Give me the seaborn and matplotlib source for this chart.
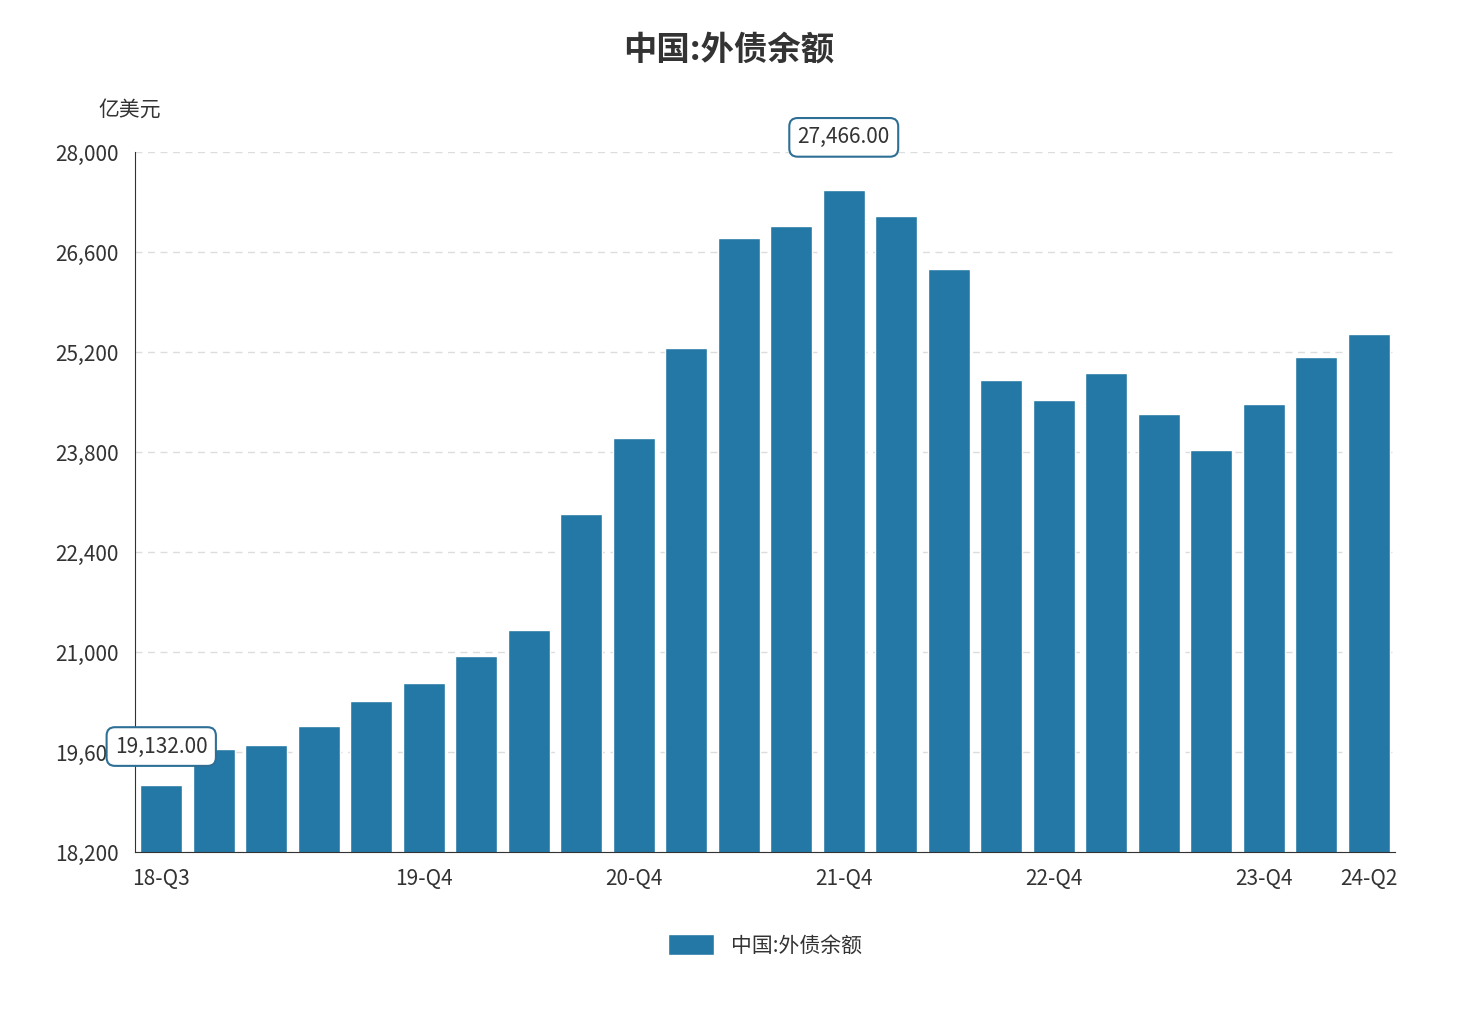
import matplotlib
matplotlib.use("Agg")
import matplotlib.pyplot as plt
import seaborn as sns
import pandas as pd
from matplotlib.ticker import FuncFormatter

quarters = ["18-Q3", "18-Q4"] + [f"{y}-Q{q}" for y in range(19, 24) for q in range(1, 5)] + ["24-Q1", "24-Q2"]
values = [19132, 19642, 19698, 19964, 20314, 20566, 20944, 21308, 22932, 23996,
          25256, 26796, 26964, 27466, 27104, 26362, 24808, 24528, 24906, 24332,
          23828, 24472, 25130, 25452]
tick_labels = ["18-Q3", "", "19-Q4", "20-Q4", "21-Q4", "22-Q4", "23-Q4", "24-Q2"]
tick_pos = [0, 1, 5, 9, 13, 17, 21, 23]

df = pd.DataFrame({"quarter": quarters, "value": values})
color = "#2378a5"

sns.set_style("white")
plt.rcParams["font.family"] = ["Noto Sans CJK SC", "DejaVu Sans"]

fig = plt.figure(figsize=(14.57, 10.31), dpi=100)
ax = fig.add_axes([135 / 1457, 1 - 852 / 1031, (1395 - 135) / 1457, (852 - 152) / 1031])
sns.barplot(data=df, x="quarter", y="value", color=color, saturation=1, width=0.8,
            ax=ax, label="中国:外债余额")
ax.set_xlim(-0.5, 23.5)
ax.set_ylim(18200, 28000)
ax.set_yticks(range(18200, 28001, 1400))
ax.yaxis.set_major_formatter(FuncFormatter(lambda v, p: f"{int(v):,}"))
ax.set_xticks(tick_pos)
ax.set_xticklabels(tick_labels)
ax.tick_params(axis="both", labelsize=15, colors="#333333", length=8, direction="out")
ax.tick_params(axis="both", color="#333333")
ax.yaxis.grid(True, linestyle=(0, (5, 4)), color="#dddddd", linewidth=1)
ax.set_axisbelow(True)
for s in ["top", "right"]:
    ax.spines[s].set_visible(False)
for s in ["left", "bottom"]:
    ax.spines[s].set_color("#333333")
ax.set_xlabel("")
ax.set_ylabel("")

fig.text(0.5, 1 - 50 / 1031, "中国:外债余额", ha="center", va="center",
         fontsize=24, fontweight="bold", color="#333333")
fig.text(98 / 1457, 1 - 110 / 1031, "亿美元", ha="left", va="center", fontsize=15, color="#333333")

box = dict(boxstyle="round,pad=0.4", fc="white", ec="#2e6f96", lw=1.5)
imax = values.index(max(values))
imin = values.index(min(values))
ax.annotate(f"{values[imax]:,.2f}", (imax, values[imax]), xytext=(0, 38), textcoords="offset points",
            ha="center", va="center", fontsize=15, color="#333333", bbox=box)
ax.annotate(f"{values[imin]:,.2f}", (imin, values[imin]), xytext=(0, 28), textcoords="offset points",
            ha="center", va="center", fontsize=15, color="#333333", bbox=box)

ax.legend(loc="upper center", bbox_to_anchor=(0.5, -0.09), frameon=False, fontsize=15,
          handlelength=2.2, handleheight=1.2, labelcolor="#333333")

fig.savefig("out.png", dpi=100)
